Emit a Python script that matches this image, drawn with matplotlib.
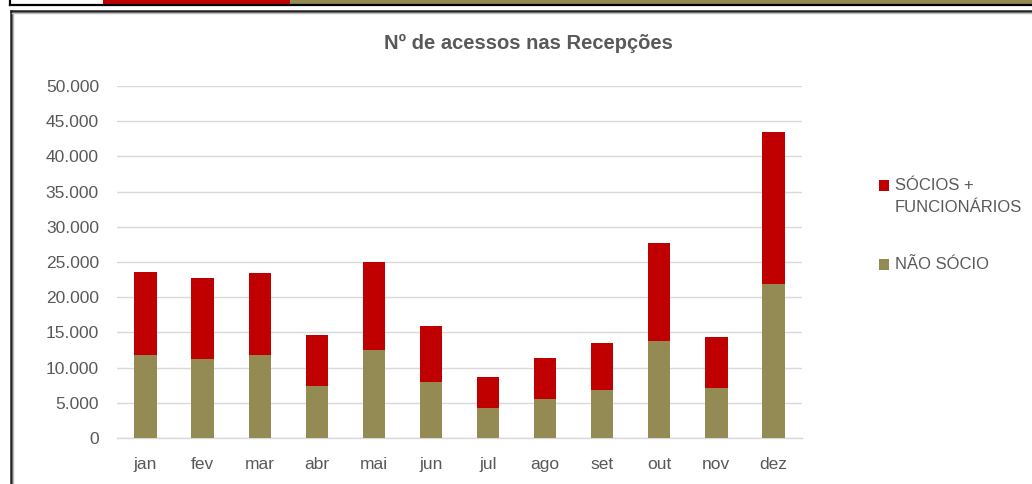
import matplotlib
import matplotlib.pyplot as plt
import numpy as np
from matplotlib.patches import Rectangle

matplotlib.use("Agg")

months = ["jan", "fev", "mar", "abr", "mai", "jun", "jul", "ago", "set", "out", "nov", "dez"]
nao_socio = [11750, 11270, 11750, 7400, 12500, 7950, 4200, 5550, 6800, 13800, 7100, 21900]
socios_func = [11850, 11430, 11750, 7300, 12500, 8000, 4400, 5750, 6700, 13900, 7200, 21600]
yticks = [0, 5000, 10000, 15000, 20000, 25000, 30000, 35000, 40000, 45000, 50000]

RED = "#C00000"
OLIVE = "#948A54"
TEXT = "#595959"
GRID = "#D9D9D9"

plt.rcParams["font.family"] = ["Liberation Sans", "DejaVu Sans"]

W, H = 1032, 484
fig = plt.figure(figsize=(W / 100, H / 100), dpi=100)

# page decoration (top strip, chart frame, legend) in pixel coordinates
bg = fig.add_axes([0, 0, 1, 1], zorder=0)
bg.set_xlim(0, W)
bg.set_ylim(H, 0)
bg.axis("off")
bg.add_patch(Rectangle((103, 0), 187, 4.5, color=RED, lw=0))
bg.add_patch(Rectangle((290, 0), W - 290, 4.5, color=OLIVE, lw=0))
bg.plot([10, W], [5.3, 5.3], color="black", lw=1.6)
bg.plot([10.3, 10.3], [0, 5.3], color="black", lw=1.6)
bg.plot([10.5, W], [11, 11], color="#222222", lw=1.8)
bg.plot([10.5, 10.5], [11, H], color="#222222", lw=1.8)
bg.plot([12, W], [13, 13], color="#BBBBBB", lw=1.0)
bg.plot([12.5, 12.5], [13, H], color="#BBBBBB", lw=1.0)

ax = fig.add_axes([117 / W, 46 / H, 685 / W, 352 / H], zorder=1)
ax.patch.set_alpha(0)
x = np.arange(len(months))
width = 0.39
ax.bar(x, nao_socio, width, color=OLIVE, label="NÃO SÓCIO", zorder=3)
ax.bar(x, socios_func, width, bottom=nao_socio, color=RED,
       label="SÓCIOS +\nFUNCIONÁRIOS", zorder=3)

ax.set_xlim(-0.5, len(months) - 0.5)
ax.set_ylim(0, 50000)
ax.set_yticks(yticks)
ax.set_yticklabels([f"{v:,}".replace(",", ".") for v in yticks])
ax.set_xticks(x)
ax.set_xticklabels(months)
ax.tick_params(axis="both", length=0, labelsize=12.5, colors=TEXT)
ax.tick_params(axis="y", pad=13)
ax.tick_params(axis="x", pad=14)
ax.grid(axis="y", color=GRID, lw=1.0, zorder=0)
for s in ["top", "right", "left"]:
    ax.spines[s].set_visible(False)
ax.spines["bottom"].set_color(GRID)
ax.spines["bottom"].set_linewidth(1.0)

fig.text(528 / W, 1 - 43 / H, "Nº de acessos nas Recepções", ha="center",
         va="center", fontsize=14.5, fontweight="bold", color=TEXT)

# legend, drawn by hand so the square sits on the first text line
legend_items = [("SÓCIOS +\nFUNCIONÁRIOS", RED, 180), ("NÃO SÓCIO", OLIVE, 259)]
for label, color, top in legend_items:
    bg.add_patch(Rectangle((879, top), 10, 10.5, color=color, lw=0))
    bg.text(895, top - 2, label, ha="left", va="top", fontsize=12,
            color=TEXT, linespacing=1.6)

fig.savefig("out.png", dpi=100)
